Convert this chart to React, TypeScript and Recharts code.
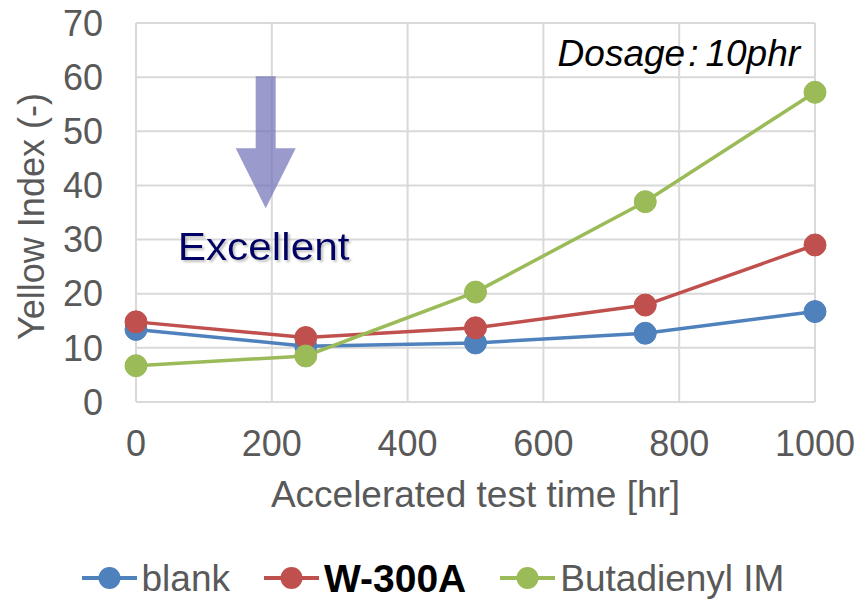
import React from "react";
import {
  LineChart,
  Line,
  XAxis,
  YAxis,
  CartesianGrid,
  Legend,
  ReferenceDot,
} from "recharts";

const hours = [0, 250, 500, 750, 1000];
const blank = [13.4, 10.3, 10.9, 12.7, 16.7];
const w300a = [14.8, 11.9, 13.7, 17.9, 29.0];
const butadienyl = [6.7, 8.5, 20.3, 37.0, 57.2];

const xTicks = [0, 200, 400, 600, 800, 1000];
const yTicks = [0, 10, 20, 30, 40, 50, 60, 70];

const series = [
  { key: "blank", name: "blank", color: "#4F81BD", bold: false },
  { key: "w300a", name: "W-300A", color: "#C0504D", bold: true },
  { key: "butadienyl", name: "Butadienyl IM", color: "#9BBB59", bold: false },
];

const data = hours.map((h, i) => ({
  hr: h,
  blank: blank[i],
  w300a: w300a[i],
  butadienyl: butadienyl[i],
}));

const FONT = "'Liberation Sans', Arial, sans-serif";
const GREY = "#595959";

function ArrowShape(props: any) {
  const { cx, cy } = props;
  if (cx == null || cy == null) return null;
  // cx, cy = tip of the arrow
  const pts = [
    [cx - 10, cy - 132],
    [cx + 10, cy - 132],
    [cx + 10, cy - 60],
    [cx + 30, cy - 60],
    [cx, cy],
    [cx - 30, cy - 60],
    [cx - 10, cy - 60],
  ]
    .map((p) => p.join(","))
    .join(" ");
  return <polygon points={pts} fill="#6f6fb8" fillOpacity={0.7} />;
}

function ExcellentShape(props: any) {
  const { cx, cy } = props;
  if (cx == null || cy == null) return null;
  return (
    <g>
      <defs>
        <filter id="exc-shadow" x="-10%" y="-30%" width="120%" height="160%">
          <feDropShadow dx={2} dy={2} stdDeviation={0.8} floodColor="#999" floodOpacity={0.6} />
        </filter>
      </defs>
      <text
        x={cx}
        y={cy}
        fontFamily={FONT}
        fontSize={38}
        textAnchor="middle"
        dominantBaseline="central"
        fill="#000066"
        textLength={172}
        lengthAdjust="spacingAndGlyphs"
        filter="url(#exc-shadow)"
      >
        Excellent
      </text>
    </g>
  );
}

function DosageShape(props: any) {
  const { cx, cy } = props;
  if (cx == null || cy == null) return null;
  return (
    <text
      x={cx}
      y={cy}
      fontFamily={FONT}
      fontSize={37}
      fontStyle="italic"
      fill="#000"
      textAnchor="end"
    >
      Dosage<tspan dx={3}>:</tspan>
      <tspan dx={7}>10phr</tspan>
    </text>
  );
}

function LegendContent() {
  return (
    <div
      style={{
        height: 84,
        paddingTop: 28,
        boxSizing: "border-box",
        display: "flex",
        alignItems: "center",
        justifyContent: "center",
        gap: 34,
        fontFamily: FONT,
      }}
    >
      {series.map((s) => (
        <div key={s.key} style={{ display: "flex", alignItems: "center", gap: 5 }}>
          <svg width={55} height={24}>
            <line x1={0} y1={12} x2={55} y2={12} stroke={s.color} strokeWidth={4} />
            <circle cx={27.5} cy={12} r={11} fill={s.color} />
          </svg>
          <span
            style={{
              fontSize: s.bold ? 39 : 37,
              fontWeight: s.bold ? "bold" : "normal",
              color: s.bold ? "#000" : GREY,
              lineHeight: 1,
            }}
          >
            {s.name}
          </span>
        </div>
      ))}
    </div>
  );
}

export default function App() {
  return (
    <div style={{ width: 866, height: 606, background: "#fff" }}>
      <style>{"body{margin:0}"}</style>
      <LineChart
        width={866}
        height={606}
        data={data}
        margin={{ top: 23, right: 51, bottom: 0, left: 0 }}
      >
        <CartesianGrid stroke="#d9d9d9" strokeWidth={2} />
        <XAxis
          dataKey="hr"
          type="number"
          domain={[0, 1000]}
          ticks={xTicks}
          height={120}
          tickLine={false}
          tickSize={0}
          tickMargin={28}
          axisLine={{ stroke: "#d9d9d9", strokeWidth: 2 }}
          tick={{ fill: GREY, fontSize: 36, fontFamily: FONT }}
          label={{
            content: (p: any) => {
              const vb = p.viewBox;
              return (
                <text
                  x={vb.x + vb.width / 2}
                  y={vb.y + 92}
                  textAnchor="middle"
                  dominantBaseline="central"
                  fontFamily={FONT}
                  fontSize={37}
                  fill={GREY}
                >
                  Accelerated test time [hr]
                </text>
              );
            },
          }}
        />
        <YAxis
          type="number"
          domain={[0, 70]}
          ticks={yTicks}
          width={136}
          tickLine={false}
          tickSize={0}
          tickMargin={33}
          axisLine={false}
          tick={{ fill: GREY, fontSize: 36, fontFamily: FONT }}
          label={{
            content: (p: any) => {
              const vb = p.viewBox;
              const cx = vb.x + 31;
              const cy = vb.y + vb.height / 2 + 4;
              return (
                <text
                  x={cx}
                  y={cy}
                  transform={`rotate(-90 ${cx} ${cy})`}
                  textAnchor="middle"
                  dominantBaseline="central"
                  fontFamily={FONT}
                  fontSize={36}
                  fill={GREY}
                >
                  Yellow Index (-)
                </text>
              );
            },
          }}
        />
        <ReferenceDot x={191} y={35.8} shape={ArrowShape} />
        <ReferenceDot x={188} y={28.6} shape={ExcellentShape} />
        <ReferenceDot x={978} y={62.1} shape={DosageShape} />
        {series.map((s) => (
          <Line
            key={s.key}
            type="linear"
            dataKey={s.key}
            name={s.name}
            stroke={s.color}
            strokeWidth={3.5}
            dot={{ r: 11, fill: s.color, stroke: s.color, strokeWidth: 1 }}
            activeDot={false}
            isAnimationActive={false}
          />
        ))}
        <Legend
          verticalAlign="bottom"
          content={LegendContent}
          wrapperStyle={{ height: 84, left: 0, width: 866 }}
        />
      </LineChart>
    </div>
  );
}
